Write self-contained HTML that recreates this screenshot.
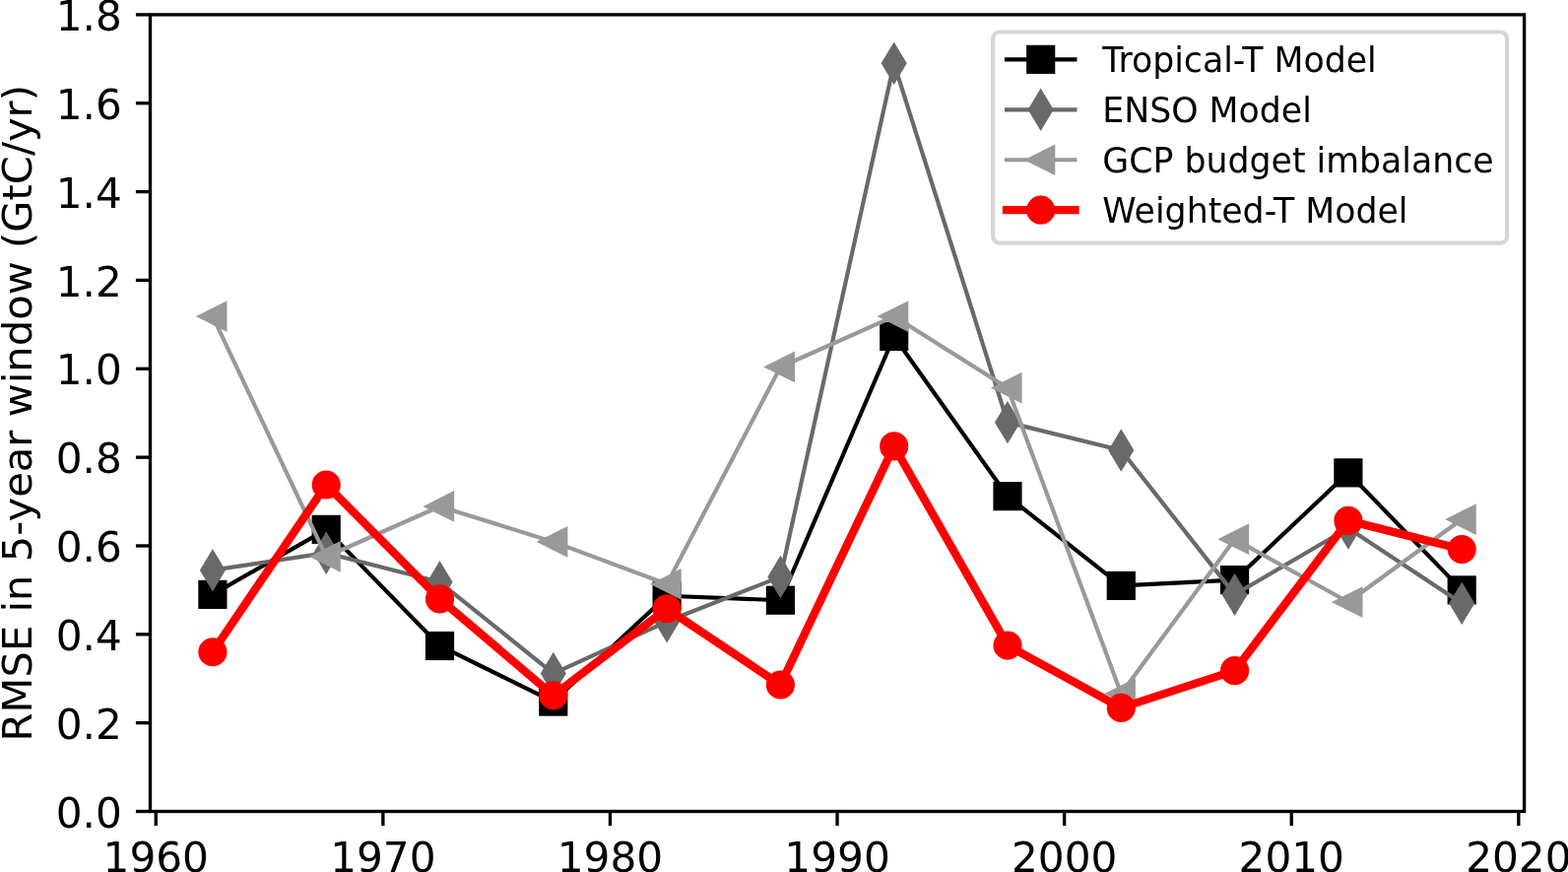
<!DOCTYPE html>
<html><head><meta charset="utf-8"><style>
html,body{margin:0;padding:0;background:#fff;}
svg{display:block;}
.t{font-family:"DejaVu Sans","Liberation Sans",sans-serif;font-size:42.2px;fill:#000;}
.yl{font-family:"DejaVu Sans","Liberation Sans",sans-serif;font-size:41.66666666666667px;fill:#000;}
.l{font-family:"DejaVu Sans","Liberation Sans",sans-serif;font-size:34.72083333333334px;fill:#000;}
</style></head><body>
<svg width="1592" height="885" viewBox="0 0 1592 885">
<rect width="1592" height="885" fill="#fff"/>
<defs><clipPath id="ax"><rect x="152.5" y="14.9" width="1395.1" height="808.6"/></clipPath></defs>
<g clip-path="url(#ax)">
<polyline points="215.91,603.38 331.21,537.35 446.51,655.49 561.81,712.09 677.1,604.73 792.4,609.22 907.7,341.48 1023,503.65 1138.29,594.4 1253.59,588.56 1368.89,479.85 1484.19,598.89" fill="none" stroke="#000000" stroke-width="4.17" stroke-linejoin="round" stroke-linecap="square"/><rect x="203.41" y="590.88" width="25" height="25" fill="#000000" stroke="#000000" stroke-width="4.17" stroke-linejoin="miter"/><rect x="318.71" y="524.85" width="25" height="25" fill="#000000" stroke="#000000" stroke-width="4.17" stroke-linejoin="miter"/><rect x="434.01" y="642.99" width="25" height="25" fill="#000000" stroke="#000000" stroke-width="4.17" stroke-linejoin="miter"/><rect x="549.31" y="699.59" width="25" height="25" fill="#000000" stroke="#000000" stroke-width="4.17" stroke-linejoin="miter"/><rect x="664.6" y="592.23" width="25" height="25" fill="#000000" stroke="#000000" stroke-width="4.17" stroke-linejoin="miter"/><rect x="779.9" y="596.72" width="25" height="25" fill="#000000" stroke="#000000" stroke-width="4.17" stroke-linejoin="miter"/><rect x="895.2" y="328.98" width="25" height="25" fill="#000000" stroke="#000000" stroke-width="4.17" stroke-linejoin="miter"/><rect x="1010.5" y="491.15" width="25" height="25" fill="#000000" stroke="#000000" stroke-width="4.17" stroke-linejoin="miter"/><rect x="1125.79" y="581.9" width="25" height="25" fill="#000000" stroke="#000000" stroke-width="4.17" stroke-linejoin="miter"/><rect x="1241.09" y="576.06" width="25" height="25" fill="#000000" stroke="#000000" stroke-width="4.17" stroke-linejoin="miter"/><rect x="1356.39" y="467.35" width="25" height="25" fill="#000000" stroke="#000000" stroke-width="4.17" stroke-linejoin="miter"/><rect x="1471.69" y="586.39" width="25" height="25" fill="#000000" stroke="#000000" stroke-width="4.17" stroke-linejoin="miter"/>
<polyline points="215.91,578.67 331.21,561.15 446.51,590.8 561.81,683.57 677.1,630.78 792.4,585.41 907.7,64.31 1023,428.63 1138.29,456.93 1253.59,603.38 1368.89,536 1484.19,612.37" fill="none" stroke="#696969" stroke-width="4.17" stroke-linejoin="round" stroke-linecap="square"/><polygon points="215.91,561 226.52,578.67 215.91,596.35 205.31,578.67" fill="#696969" stroke="#696969" stroke-width="4.17" stroke-linejoin="miter" stroke-miterlimit="10"/><polygon points="331.21,543.48 341.82,561.15 331.21,578.83 320.6,561.15" fill="#696969" stroke="#696969" stroke-width="4.17" stroke-linejoin="miter" stroke-miterlimit="10"/><polygon points="446.51,573.13 457.12,590.8 446.51,608.48 435.9,590.8" fill="#696969" stroke="#696969" stroke-width="4.17" stroke-linejoin="miter" stroke-miterlimit="10"/><polygon points="561.81,665.89 572.41,683.57 561.81,701.24 551.2,683.57" fill="#696969" stroke="#696969" stroke-width="4.17" stroke-linejoin="miter" stroke-miterlimit="10"/><polygon points="677.1,613.11 687.71,630.78 677.1,648.46 666.5,630.78" fill="#696969" stroke="#696969" stroke-width="4.17" stroke-linejoin="miter" stroke-miterlimit="10"/><polygon points="792.4,567.73 803.01,585.41 792.4,603.09 781.79,585.41" fill="#696969" stroke="#696969" stroke-width="4.17" stroke-linejoin="miter" stroke-miterlimit="10"/><polygon points="907.7,46.64 918.31,64.31 907.7,81.99 897.09,64.31" fill="#696969" stroke="#696969" stroke-width="4.17" stroke-linejoin="miter" stroke-miterlimit="10"/><polygon points="1023,410.96 1033.6,428.63 1023,446.31 1012.39,428.63" fill="#696969" stroke="#696969" stroke-width="4.17" stroke-linejoin="miter" stroke-miterlimit="10"/><polygon points="1138.29,439.26 1148.9,456.93 1138.29,474.61 1127.69,456.93" fill="#696969" stroke="#696969" stroke-width="4.17" stroke-linejoin="miter" stroke-miterlimit="10"/><polygon points="1253.59,585.7 1264.2,603.38 1253.59,621.06 1242.98,603.38" fill="#696969" stroke="#696969" stroke-width="4.17" stroke-linejoin="miter" stroke-miterlimit="10"/><polygon points="1368.89,518.32 1379.5,536 1368.89,553.68 1358.28,536" fill="#696969" stroke="#696969" stroke-width="4.17" stroke-linejoin="miter" stroke-miterlimit="10"/><polygon points="1484.19,594.69 1494.79,612.37 1484.19,630.04 1473.58,612.37" fill="#696969" stroke="#696969" stroke-width="4.17" stroke-linejoin="miter" stroke-miterlimit="10"/>
<polyline points="215.91,321.04 331.21,564.97 446.51,513.99 561.81,549.92 677.1,592.82 792.4,372.48 907.7,321.04 1023,393.59 1138.29,704.01 1253.59,547.23 1368.89,611.02 1484.19,527.01" fill="none" stroke="#999999" stroke-width="4.17" stroke-linejoin="round" stroke-linecap="square"/><polygon points="203.41,321.04 228.41,308.54 228.41,333.54" fill="#999999" stroke="#999999" stroke-width="4.17" stroke-linejoin="miter" stroke-miterlimit="10"/><polygon points="318.71,564.97 343.71,552.47 343.71,577.47" fill="#999999" stroke="#999999" stroke-width="4.17" stroke-linejoin="miter" stroke-miterlimit="10"/><polygon points="434.01,513.99 459.01,501.49 459.01,526.49" fill="#999999" stroke="#999999" stroke-width="4.17" stroke-linejoin="miter" stroke-miterlimit="10"/><polygon points="549.31,549.92 574.31,537.42 574.31,562.42" fill="#999999" stroke="#999999" stroke-width="4.17" stroke-linejoin="miter" stroke-miterlimit="10"/><polygon points="664.6,592.82 689.6,580.32 689.6,605.32" fill="#999999" stroke="#999999" stroke-width="4.17" stroke-linejoin="miter" stroke-miterlimit="10"/><polygon points="779.9,372.48 804.9,359.98 804.9,384.98" fill="#999999" stroke="#999999" stroke-width="4.17" stroke-linejoin="miter" stroke-miterlimit="10"/><polygon points="895.2,321.04 920.2,308.54 920.2,333.54" fill="#999999" stroke="#999999" stroke-width="4.17" stroke-linejoin="miter" stroke-miterlimit="10"/><polygon points="1010.5,393.59 1035.5,381.09 1035.5,406.09" fill="#999999" stroke="#999999" stroke-width="4.17" stroke-linejoin="miter" stroke-miterlimit="10"/><polygon points="1125.79,704.01 1150.79,691.51 1150.79,716.51" fill="#999999" stroke="#999999" stroke-width="4.17" stroke-linejoin="miter" stroke-miterlimit="10"/><polygon points="1241.09,547.23 1266.09,534.73 1266.09,559.73" fill="#999999" stroke="#999999" stroke-width="4.17" stroke-linejoin="miter" stroke-miterlimit="10"/><polygon points="1356.39,611.02 1381.39,598.52 1381.39,623.52" fill="#999999" stroke="#999999" stroke-width="4.17" stroke-linejoin="miter" stroke-miterlimit="10"/><polygon points="1471.69,527.01 1496.69,514.51 1496.69,539.51" fill="#999999" stroke="#999999" stroke-width="4.17" stroke-linejoin="miter" stroke-miterlimit="10"/>
<polyline points="215.91,661.78 331.21,491.97 446.51,607.87 561.81,705.8 677.1,617.76 792.4,695.02 907.7,452.89 1023,655.04 1138.29,718.38 1253.59,680.65 1368.89,528.36 1484.19,557.56" fill="none" stroke="#ff0000" stroke-width="8.33" stroke-linejoin="round" stroke-linecap="square"/><circle cx="215.91" cy="661.78" r="12.5" fill="#ff0000" stroke="#ff0000" stroke-width="4.17"/><circle cx="331.21" cy="491.97" r="12.5" fill="#ff0000" stroke="#ff0000" stroke-width="4.17"/><circle cx="446.51" cy="607.87" r="12.5" fill="#ff0000" stroke="#ff0000" stroke-width="4.17"/><circle cx="561.81" cy="705.8" r="12.5" fill="#ff0000" stroke="#ff0000" stroke-width="4.17"/><circle cx="677.1" cy="617.76" r="12.5" fill="#ff0000" stroke="#ff0000" stroke-width="4.17"/><circle cx="792.4" cy="695.02" r="12.5" fill="#ff0000" stroke="#ff0000" stroke-width="4.17"/><circle cx="907.7" cy="452.89" r="12.5" fill="#ff0000" stroke="#ff0000" stroke-width="4.17"/><circle cx="1023" cy="655.04" r="12.5" fill="#ff0000" stroke="#ff0000" stroke-width="4.17"/><circle cx="1138.29" cy="718.38" r="12.5" fill="#ff0000" stroke="#ff0000" stroke-width="4.17"/><circle cx="1253.59" cy="680.65" r="12.5" fill="#ff0000" stroke="#ff0000" stroke-width="4.17"/><circle cx="1368.89" cy="528.36" r="12.5" fill="#ff0000" stroke="#ff0000" stroke-width="4.17"/><circle cx="1484.19" cy="557.56" r="12.5" fill="#ff0000" stroke="#ff0000" stroke-width="4.17"/>
</g>
<rect x="152.5" y="14.9" width="1395.1" height="808.6" fill="none" stroke="#000" stroke-width="3.33" stroke-linejoin="miter" stroke-linecap="square"/>
<line x1="137.92" y1="823.5" x2="152.5" y2="823.5" stroke="#000" stroke-width="3.33"/>
<text x="123.83" y="839.66" text-anchor="end" class="t">0.0</text>
<line x1="137.92" y1="733.66" x2="152.5" y2="733.66" stroke="#000" stroke-width="3.33"/>
<text x="123.83" y="749.82" text-anchor="end" class="t">0.2</text>
<line x1="137.92" y1="643.81" x2="152.5" y2="643.81" stroke="#000" stroke-width="3.33"/>
<text x="123.83" y="659.97" text-anchor="end" class="t">0.4</text>
<line x1="137.92" y1="553.97" x2="152.5" y2="553.97" stroke="#000" stroke-width="3.33"/>
<text x="123.83" y="570.13" text-anchor="end" class="t">0.6</text>
<line x1="137.92" y1="464.12" x2="152.5" y2="464.12" stroke="#000" stroke-width="3.33"/>
<text x="123.83" y="480.28" text-anchor="end" class="t">0.8</text>
<line x1="137.92" y1="374.28" x2="152.5" y2="374.28" stroke="#000" stroke-width="3.33"/>
<text x="123.83" y="390.44" text-anchor="end" class="t">1.0</text>
<line x1="137.92" y1="284.43" x2="152.5" y2="284.43" stroke="#000" stroke-width="3.33"/>
<text x="123.83" y="300.59" text-anchor="end" class="t">1.2</text>
<line x1="137.92" y1="194.59" x2="152.5" y2="194.59" stroke="#000" stroke-width="3.33"/>
<text x="123.83" y="210.75" text-anchor="end" class="t">1.4</text>
<line x1="137.92" y1="104.74" x2="152.5" y2="104.74" stroke="#000" stroke-width="3.33"/>
<text x="123.83" y="120.91" text-anchor="end" class="t">1.6</text>
<line x1="137.92" y1="14.9" x2="152.5" y2="14.9" stroke="#000" stroke-width="3.33"/>
<text x="123.83" y="31.06" text-anchor="end" class="t">1.8</text>
<line x1="158.26" y1="823.5" x2="158.26" y2="838.08" stroke="#000" stroke-width="3.33"/>
<text x="158.26" y="884.74" text-anchor="middle" class="t">1960</text>
<line x1="388.86" y1="823.5" x2="388.86" y2="838.08" stroke="#000" stroke-width="3.33"/>
<text x="388.86" y="884.74" text-anchor="middle" class="t">1970</text>
<line x1="619.45" y1="823.5" x2="619.45" y2="838.08" stroke="#000" stroke-width="3.33"/>
<text x="619.45" y="884.74" text-anchor="middle" class="t">1980</text>
<line x1="850.05" y1="823.5" x2="850.05" y2="838.08" stroke="#000" stroke-width="3.33"/>
<text x="850.05" y="884.74" text-anchor="middle" class="t">1990</text>
<line x1="1080.65" y1="823.5" x2="1080.65" y2="838.08" stroke="#000" stroke-width="3.33"/>
<text x="1080.65" y="884.74" text-anchor="middle" class="t">2000</text>
<line x1="1311.24" y1="823.5" x2="1311.24" y2="838.08" stroke="#000" stroke-width="3.33"/>
<text x="1311.24" y="884.74" text-anchor="middle" class="t">2010</text>
<line x1="1541.84" y1="823.5" x2="1541.84" y2="838.08" stroke="#000" stroke-width="3.33"/>
<text x="1541.84" y="884.74" text-anchor="middle" class="t">2020</text>
<text transform="translate(32.2,419.2) rotate(-90)" text-anchor="middle" class="yl">RMSE in 5-year window (GtC/yr)</text>
<rect x="1008.1" y="32.5" width="522" height="214.2" rx="6.94" ry="6.94" fill="#fff" fill-opacity="0.8" stroke="#cccccc" stroke-opacity="0.8" stroke-width="4.17"/>
<line x1="1022" y1="60.35" x2="1091.4" y2="60.35" stroke="#000000" stroke-width="4.17" stroke-linecap="square"/>
<rect x="1044.2" y="47.85" width="25" height="25" fill="#000000" stroke="#000000" stroke-width="4.17" stroke-linejoin="miter"/>
<text x="1119.3" y="72.7" class="l">Tropical-T Model</text>
<line x1="1022" y1="111.3" x2="1091.4" y2="111.3" stroke="#696969" stroke-width="4.17" stroke-linecap="square"/>
<polygon points="1056.7,93.62 1067.31,111.3 1056.7,128.98 1046.09,111.3" fill="#696969" stroke="#696969" stroke-width="4.17" stroke-linejoin="miter" stroke-miterlimit="10"/>
<text x="1119.3" y="123.65" class="l">ENSO Model</text>
<line x1="1022" y1="162.25" x2="1091.4" y2="162.25" stroke="#999999" stroke-width="4.17" stroke-linecap="square"/>
<polygon points="1044.2,162.25 1069.2,149.75 1069.2,174.75" fill="#999999" stroke="#999999" stroke-width="4.17" stroke-linejoin="miter" stroke-miterlimit="10"/>
<text x="1119.3" y="174.6" class="l">GCP budget imbalance</text>
<line x1="1022" y1="213.2" x2="1091.4" y2="213.2" stroke="#ff0000" stroke-width="8.33" stroke-linecap="square"/>
<circle cx="1056.7" cy="213.2" r="12.5" fill="#ff0000" stroke="#ff0000" stroke-width="4.17"/>
<text x="1119.3" y="225.55" class="l">Weighted-T Model</text>
</svg></body></html>
